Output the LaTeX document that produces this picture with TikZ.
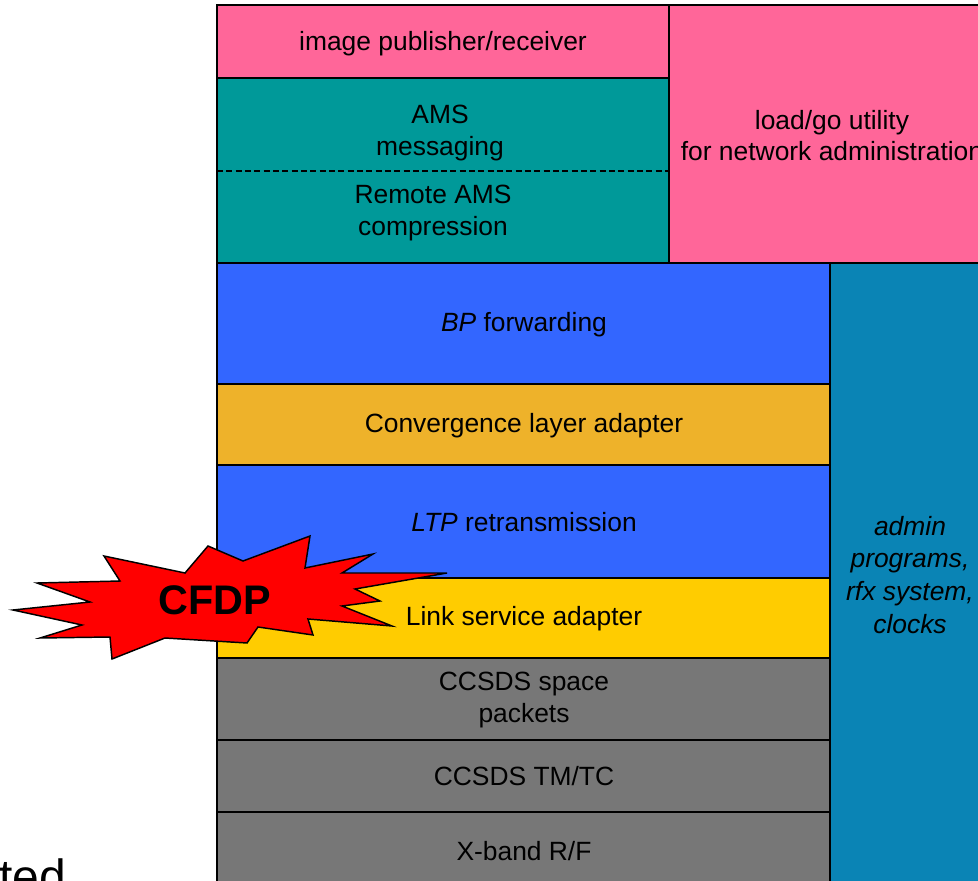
\documentclass[tikz,border=0pt]{standalone}
\usepackage{fontspec}
\setmainfont{Liberation Sans}
\usetikzlibrary{fit}
\definecolor{cpink}{HTML}{FF6699}
\definecolor{cteal}{HTML}{009999}
\definecolor{cblue}{HTML}{3366FF}
\definecolor{cadmin}{HTML}{0A84B5}
\definecolor{corange}{HTML}{EEB22A}
\definecolor{cyellow}{HTML}{FFCC00}
\definecolor{cgray}{HTML}{777777}
\begin{document}
\begin{tikzpicture}[x=0.75pt,y=-0.75pt,
  layer/.style={draw=black,line width=1.3pt,inner sep=0pt},
  lbl/.style={inner sep=0pt,align=center,font=\fontsize{19.8}{23.3}\selectfont},
  burst/.style={fill=red,draw=black,line width=1.1pt,line join=miter}]
\useasboundingbox (0,0) rectangle (978,881);
\clip (0,0) rectangle (978,881);
% top application layers
\node[layer,fill=cpink,fit={(217,5) (669,78)}] (img) {};
\node[lbl] (imgtxt) at (443,44) {image publisher/receiver};
\node[layer,fill=cteal,fit={(217,78) (669,263)}] (ams) {};
\draw[dash pattern=on 4.5pt off 2.5pt,line width=1pt] (217,171) -- (669,171);
\node[lbl] (amsmsg) at (440,133) {AMS\\messaging};
\node[lbl] (amsrem) at (433,213) {Remote AMS\\compression};
\node[layer,fill=cpink,fit={(669,5) (993,263)}] (load) {};
\node[lbl] (loadtxt) at (832,136) {load/go utility\\for network administration};
% admin column
\node[layer,fill=cadmin,fit={(830,263) (992,900)}] (admin) {};
\node[lbl,font=\fontsize{19.8}{24.7}\selectfont\itshape] (admintxt) at (910,575) {admin\\programs,\\rfx system,\\clocks};
% stack
\node[layer,fill=cblue,fit={(217,263) (830,384)}] (bp) {};
\node[lbl] (bptxt) at (524,325) {\textit{BP} forwarding};
\node[layer,fill=corange,fit={(217,384) (830,465)}] (cla) {};
\node[lbl] (clatxt) at (524,426) {Convergence layer adapter};
\node[layer,fill=cblue,fit={(217,465) (830,578)}] (ltp) {};
\node[lbl] (ltptxt) at (524,522) {\textit{LTP} retransmission};
\node[layer,fill=cyellow,fit={(217,578) (830,658)}] (lsa) {};
\node[lbl] (lsatxt) at (524,619) {Link service adapter};
\node[layer,fill=cgray,fit={(217,658) (830,740)}] (ssp) {};
\node[lbl] (ssptxt) at (524,700) {CCSDS space\\packets};
\node[layer,fill=cgray,fit={(217,740) (830,812)}] (tmtc) {};
\node[lbl] (tmtctxt) at (524,776) {CCSDS TM/TC};
\node[layer,fill=cgray,fit={(217,812) (830,890)}] (rf) {};
\node[lbl] (rftxt) at (524,851) {X-band R/F};
% starburst
\draw[burst] (13,610) -- (90,602) -- (37,583) -- (120,581) -- (104,556)
  -- (185,573) -- (208,546) -- (243,561) -- (310,536) -- (305,568)
  -- (373,554) -- (342,573) -- (447,573) -- (355,589) -- (380,601)
  -- (342,606) -- (392,626) -- (308,619) -- (313,635) -- (258,627)
  -- (247,643) -- (165,638) -- (112,659) -- (110,637) -- (40,638)
  -- (82,625) -- cycle;
\node[inner sep=0pt,font=\fontsize{31}{31}\selectfont\bfseries] (cfdp) at (215,600) {CFDP};
% cut-off text bottom left
\node[inner sep=0pt,anchor=base west,font=\fontsize{36}{36}\selectfont] (ted) at (-1,893) {ted};
\end{tikzpicture}
\end{document}
